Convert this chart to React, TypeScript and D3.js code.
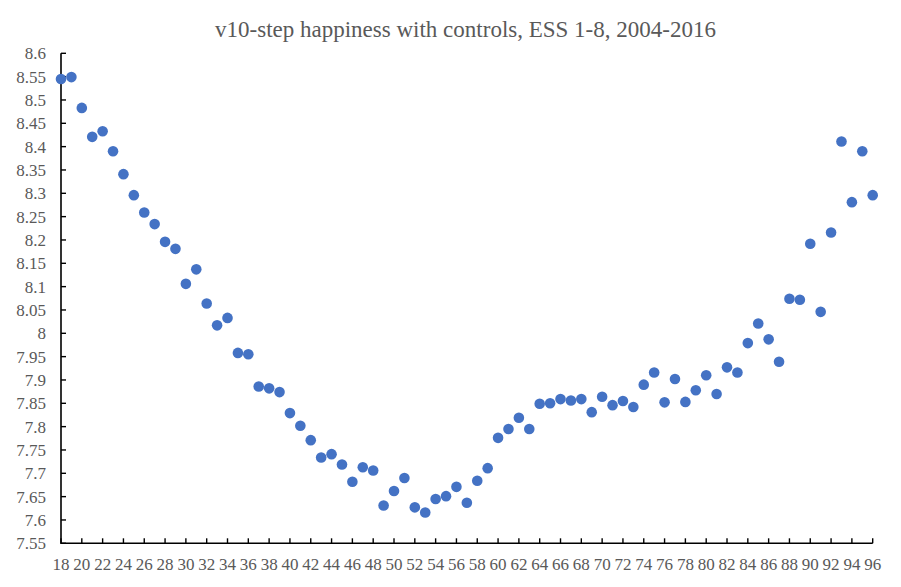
import { useEffect, useRef } from 'react'
import * as d3 from 'd3'

const title = 'v10-step happiness with controls, ESS 1-8, 2004-2016'

// âge 18 à 96
const ages = d3.range(18, 97)

const happiness = [
  8.545, 8.549, 8.483, 8.421, 8.433, 8.390, 8.341, 8.296, 8.259, 8.234,
  8.196, 8.181, 8.106, 8.137, 8.064, 8.017, 8.033, 7.958, 7.955, 7.886,
  7.882, 7.874, 7.829, 7.802, 7.771, 7.734, 7.741, 7.719, 7.682, 7.713,
  7.706, 7.631, 7.662, 7.690, 7.627, 7.616, 7.645, 7.651, 7.671, 7.637,
  7.684, 7.711, 7.776, 7.795, 7.819, 7.795, 7.849, 7.850, 7.859, 7.856,
  7.859, 7.831, 7.864, 7.846, 7.855, 7.842, 7.890, 7.916, 7.852, 7.902,
  7.853, 7.878, 7.910, 7.870, 7.927, 7.916, 7.979, 8.021, 7.987, 7.939,
  8.074, 8.072, 8.192, 8.046, 8.216, 8.411, 8.281, 8.390, 8.296,
]

const xTicks = d3.range(18, 97, 2)
const yTicks = d3.range(0, 22).map(i => +(7.55 + i * 0.05).toFixed(2))

const width = 901
const height = 587
const margin = { top: 53.3, right: 28.3, bottom: 43.7, left: 61 }
const font = '"Liberation Serif", "Times New Roman", serif'

const x = d3.scaleLinear()
  .domain([18, 96])
  .range([margin.left, width - margin.right])

const y = d3.scaleLinear()
  .domain([7.55, 8.6])
  .range([height - margin.bottom, margin.top])

export default function App() {
  const pointsRef = useRef<SVGGElement>(null)

  useEffect(() => {
    if (!pointsRef.current) return
    const g = d3.select(pointsRef.current)
    g.selectAll('*').remove()

    // points
    g.selectAll('circle')
      .data(ages)
      .join('circle')
      .attr('cx', d => x(d))
      .attr('cy', (d, i) => y(happiness[i]))
      .attr('r', 5.3)
      .attr('fill', '#4472c4')
  }, [])

  const x0 = x(18)
  const y0 = y(7.55)

  return (
    <div style={{ margin: -8 }}>
      <svg width={width} height={height} style={{ display: 'block' }}>
        {/* cadre */}
        <path d={`M4.5,${height + 5}V5.5H${width + 5}`} fill="none" stroke="#d9d9d9" strokeWidth={1.3} />

        <text x={465.5} y={37} textAnchor="middle" fontFamily={font} fontSize={23} fill="#595959">
          {title}
        </text>

        {/* axe x */}
        <g>
          {xTicks.map(t => (
            <g key={t}>
              <line x1={x(t)} x2={x(t)} y1={y0} y2={y0 - 5} stroke="#000" strokeWidth={1.4} />
              <text x={x(t)} y={y0 + 27} textAnchor="middle" fontFamily={font} fontSize={17} fill="#595959">
                {t}
              </text>
            </g>
          ))}
        </g>

        {/* axe y */}
        <g>
          {yTicks.map(t => (
            <g key={t}>
              <line x1={x0} x2={x0 + 5} y1={y(t)} y2={y(t)} stroke="#000" strokeWidth={1.4} />
              <text x={x0 - 15} y={y(t) + 6} textAnchor="end" fontFamily={font} fontSize={17} fill="#595959">
                {`${t}`}
              </text>
            </g>
          ))}
        </g>

        <path d={`M${x(96)},${y0}H${x0}V${y(8.6)}`} fill="none" stroke="#000" strokeWidth={1.6} />

        <g ref={pointsRef} />
      </svg>
    </div>
  )
}
